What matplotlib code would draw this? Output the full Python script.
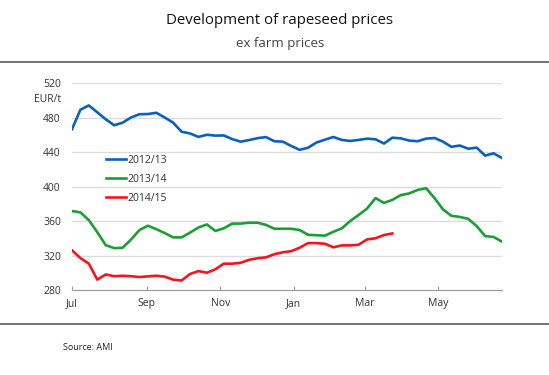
import numpy as np
import matplotlib
matplotlib.use("Agg")
from matplotlib import pyplot as plt
from matplotlib.lines import Line2D

plt.rcParams['font.family'] = ['Open Sans', 'DejaVu Sans']

# weekly ex farm prices, EUR/t, week 0 = start of July
prices_2012 = [466.5, 489, 494, 486, 478, 471, 474, 480, 483.8, 484, 485.5, 480, 474,
               463.5, 461.5, 457.5, 460, 459, 459.2, 455, 452, 453.8, 456, 457.3, 452.5,
               452, 447, 442.5, 445, 451, 454.3, 457.4, 454, 452.8, 454, 455.5, 454.7,
               449.8, 456.6, 455.8, 453.2, 452.5, 455.5, 456.2, 452, 446, 447.5, 443.8,
               445, 435.8, 438.5, 433]
prices_2013 = [371.5, 370, 361, 347, 332, 328.5, 329, 338.5, 349.5, 354.5, 350.5, 346,
               341, 341, 346.5, 352.5, 356, 348.5, 351.5, 357, 357, 358, 358, 355.5, 351,
               351, 351, 349.5, 344, 343.5, 343, 347.5, 351.5, 360, 367, 374.5, 386.5,
               381, 384.5, 390, 392, 396, 398, 386.5, 373.5, 366, 364.7, 362.5, 354,
               342.5, 341.5, 336]
prices_2014 = [326, 317, 310.5, 292, 298, 296, 296.5, 296, 295, 295.8, 296.5, 295.5, 292,
               291, 298.5, 302, 300, 304, 310.5, 310.5, 311.5, 315, 316.8, 317.8, 321.5,
               323.7, 325, 329, 334.4, 334.4, 333.6, 329.5, 331.7, 331.7, 332.5, 338.6,
               340, 343.7, 345.6]
labels = ['2012/13', '2013/14', '2014/15']
colors = ['#0b5fbe', '#1a9f34', '#f5151a']

month_labels = ['Jul', 'Sep', 'Nov', 'Jan', 'Mar', 'May']
month_days = [0, 62, 123, 184, 243, 304]
y_ticks = [280, 320, 360, 400, 440, 480, 520]

fig = plt.figure(figsize=(5.49, 3.75), dpi=100)
ax = fig.add_axes([72 / 549, 1 - 290 / 375, 430 / 549, 207 / 375])

for vals, lab, col in zip([prices_2012, prices_2013, prices_2014], labels, colors):
    ax.plot(np.arange(len(vals)), vals, color=col, lw=1.9, label=lab, solid_joinstyle='round')

ax.set_xlim(0, 51)
ax.set_ylim(280, 520)
ax.set_yticks(y_ticks)
ax.set_xticks([d / 7 for d in month_days])
ax.set_xticklabels(month_labels)
ax.grid(axis='y', color='#dcdcdc', lw=1)
ax.set_axisbelow(True)
for s in ['top', 'right', 'left']:
    ax.spines[s].set_visible(False)
ax.spines['bottom'].set_color('#9a9a9a')
ax.tick_params(axis='y', length=0, pad=8, labelsize=7.5, labelcolor='#333333')
ax.tick_params(axis='x', direction='in', length=3, color='#9a9a9a', pad=6,
               labelsize=7.5, labelcolor='#333333')

fig.text(61 / 549, 1 - 99 / 375, 'EUR/t', ha='right', va='center', fontsize=7.5, color='#333333')

ax.legend(loc='upper left', bbox_to_anchor=(106 / 549, 1 - 155 / 375),
          bbox_transform=fig.transFigure, frameon=False, fontsize=7.5,
          handlelength=1.9, handletextpad=0.15, labelspacing=0.75,
          borderpad=0, borderaxespad=0, labelcolor='#333333')

fig.text(280 / 549, 1 - 21 / 375, 'Development of rapeseed prices', ha='center', va='center',
         fontsize=10.8, color='#111111')
fig.text(280 / 549, 1 - 43 / 375, 'ex farm prices', ha='center', va='center',
         fontsize=9.5, color='#444444')

fig.add_artist(Line2D([0, 1], [1 - 62 / 375] * 2, color='#666666', lw=1.3))
fig.add_artist(Line2D([0, 1], [1 - 324 / 375] * 2, color='#666666', lw=1.3))

fig.text(63 / 549, 1 - 348 / 375, 'Source: AMI', ha='left', va='center', fontsize=6.5, color='#222222')

fig.savefig('out.png', dpi=100)
